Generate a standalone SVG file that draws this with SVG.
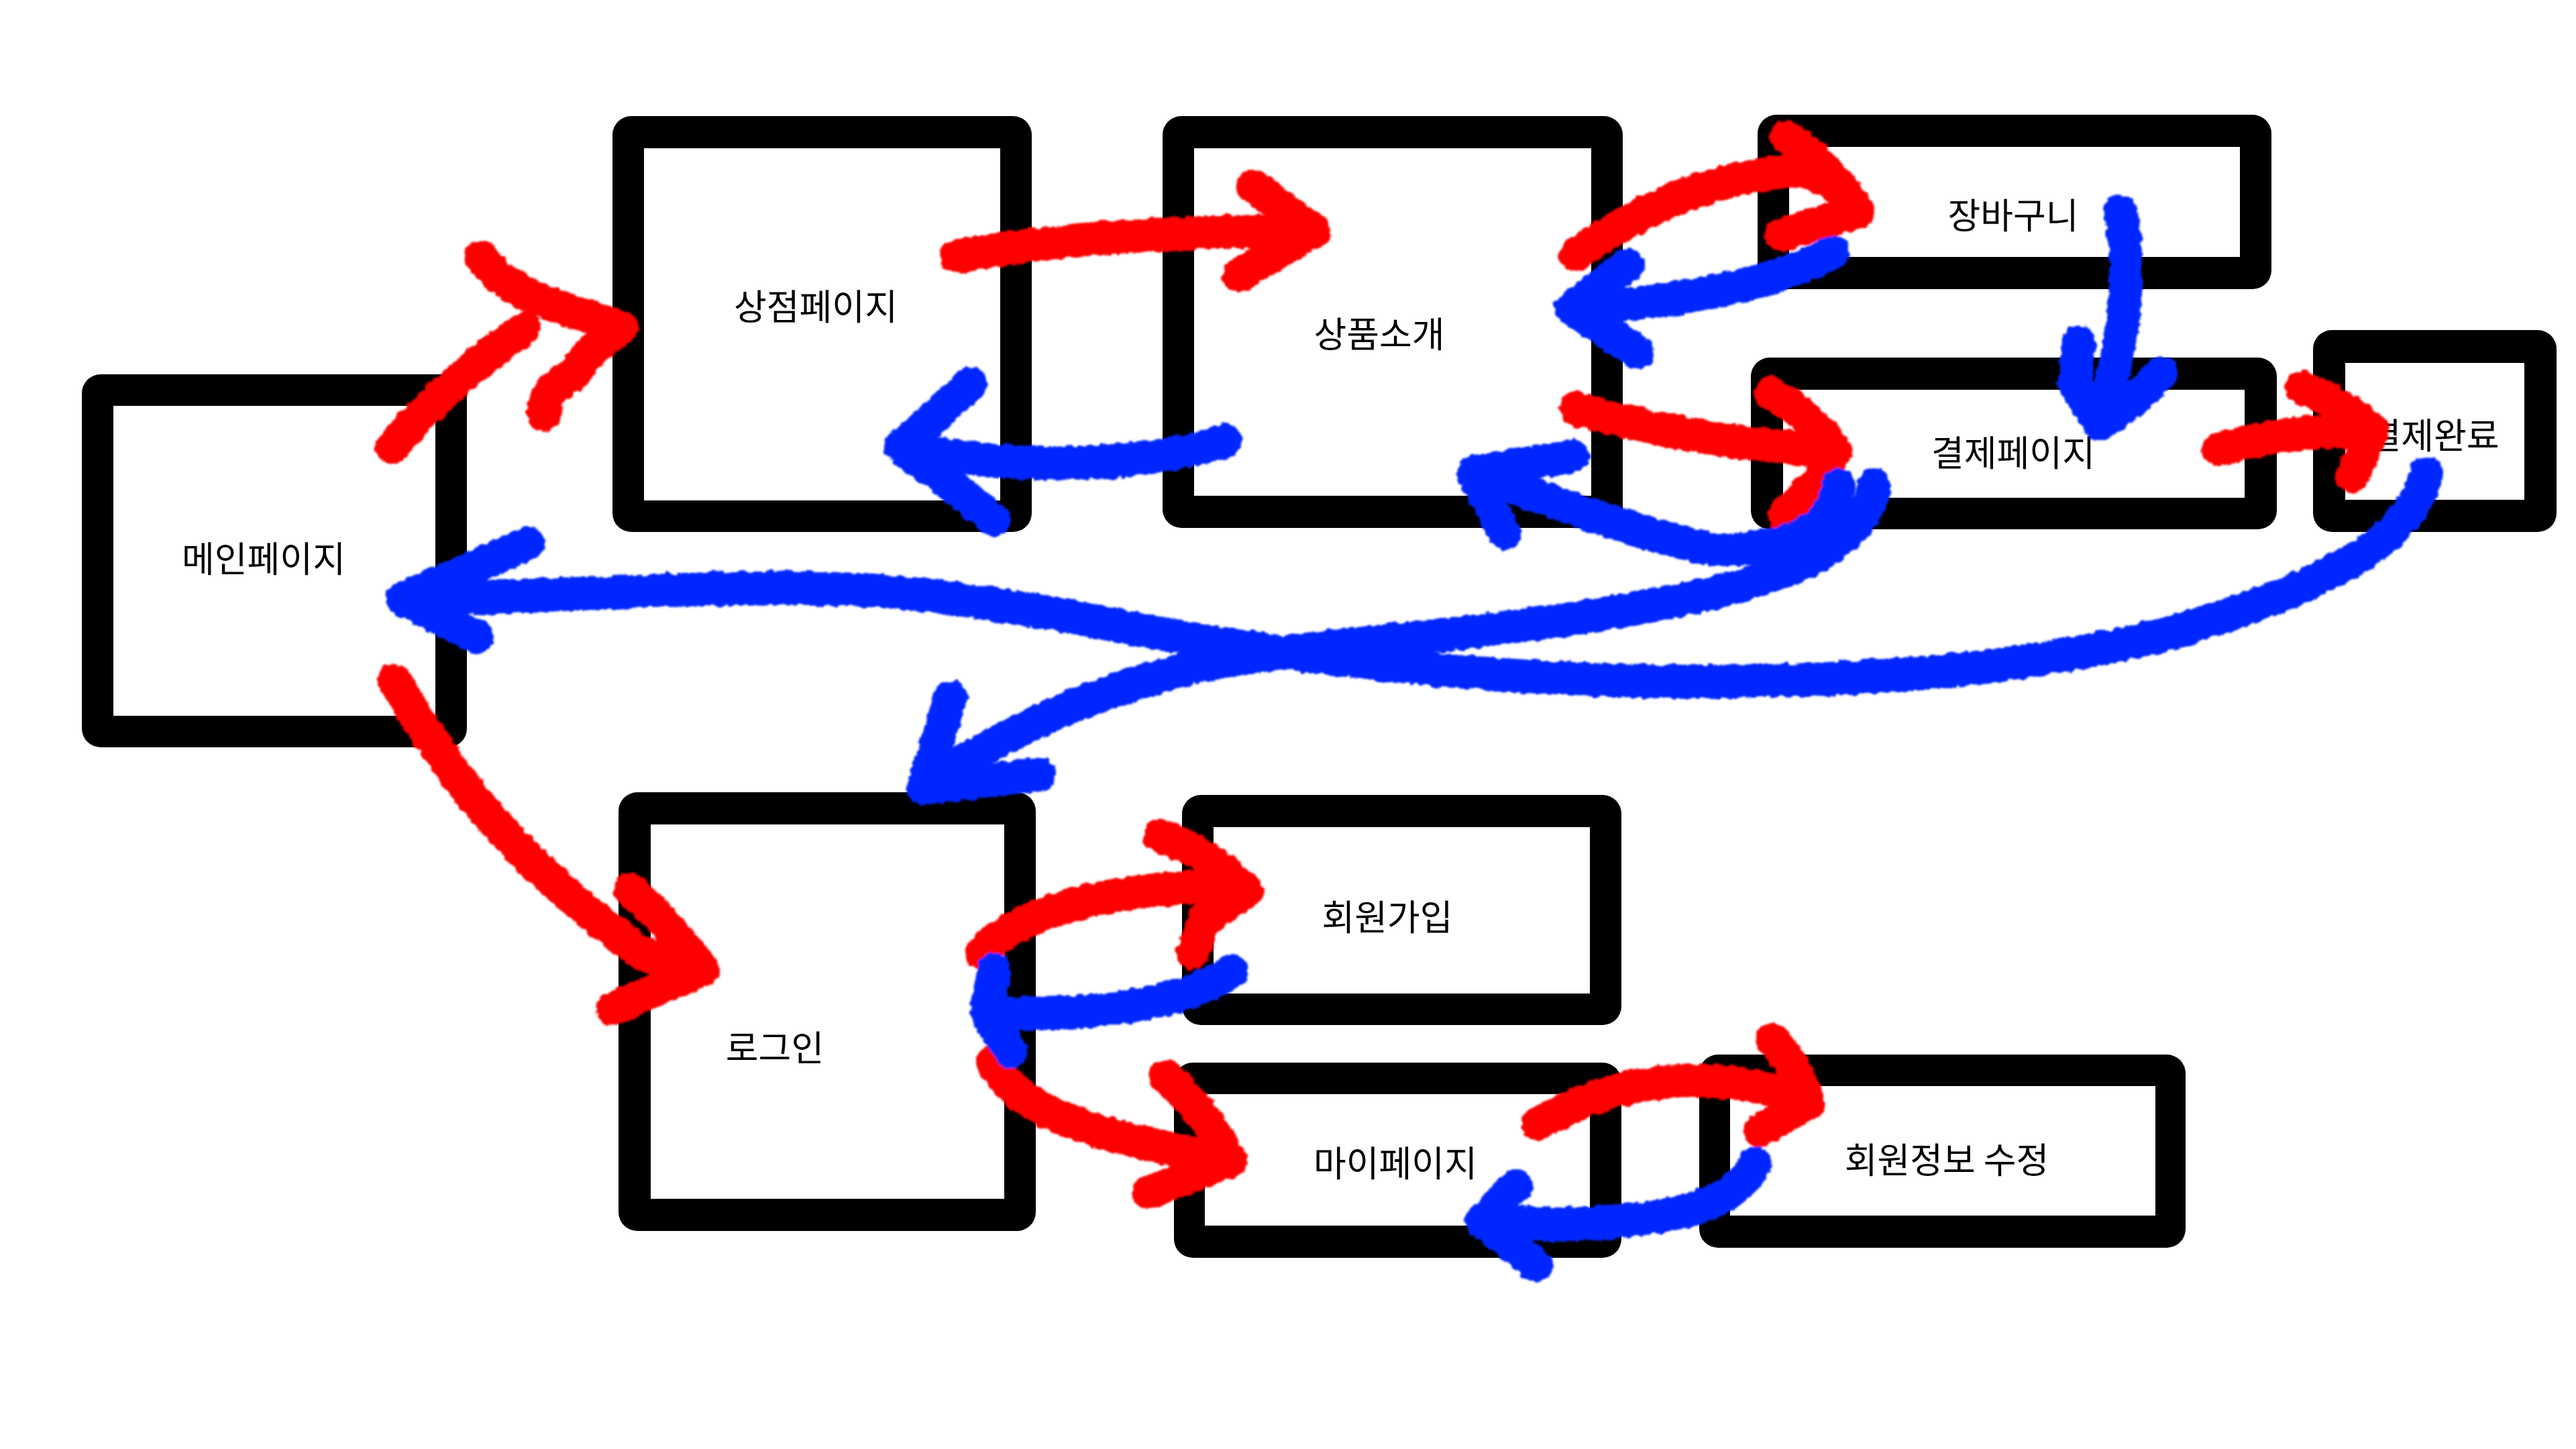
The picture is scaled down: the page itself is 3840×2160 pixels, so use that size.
<svg xmlns="http://www.w3.org/2000/svg" width="3840" height="2160" viewBox="0 0 3840 2160">
<style>
.frame{fill:#000}
.inner{fill:#fff}
.label{font-family:"Noto Sans CJK KR","Noto Sans",sans-serif;font-size:53px;font-weight:400;fill:#000;text-anchor:middle;dominant-baseline:central}
.red{fill:none;stroke:#ff0000;stroke-width:50;stroke-linecap:round;stroke-linejoin:round}
.blue{fill:none;stroke:#0028ff;stroke-width:50;stroke-linecap:round;stroke-linejoin:round}
</style>
<defs>
<filter id="brush" filterUnits="userSpaceOnUse" x="0" y="0" width="3840" height="2160">
<feTurbulence type="fractalNoise" baseFrequency="0.09" numOctaves="2" seed="3" result="n"/>
<feDisplacementMap in="SourceGraphic" in2="n" scale="10" xChannelSelector="R" yChannelSelector="G" result="d"/>
<feGaussianBlur in="d" stdDeviation="1.8"/>
</filter>
</defs>
<rect width="3840" height="2160" fill="#fff"/>

<g id="main-page">
<rect class="frame" x="122" y="558" width="574" height="556" rx="28"/>
<rect class="inner" x="169" y="605" width="480" height="462"/>
<text class="label" x="393" y="830">메인페이지</text>
</g>
<g id="shop-page">
<rect class="frame" x="913" y="173" width="625" height="620" rx="28"/>
<rect class="inner" x="960" y="221" width="531" height="525"/>
<text class="label" x="1216" y="454">상점페이지</text>
</g>
<g id="product-intro">
<rect class="frame" x="1733" y="173" width="686" height="614" rx="28"/>
<rect class="inner" x="1780" y="221" width="592" height="518"/>
<text class="label" x="2056" y="495">상품소개</text>
</g>
<g id="cart">
<rect class="frame" x="2620" y="171" width="766" height="260" rx="28"/>
<rect class="inner" x="2667" y="219" width="672" height="164"/>
<text class="label" x="3001" y="318">장바구니</text>
</g>
<g id="payment-page">
<rect class="frame" x="2610" y="533" width="784" height="256" rx="28"/>
<rect class="inner" x="2658" y="581" width="688" height="161"/>
<text class="label" x="3001" y="672">결제페이지</text>
</g>
<g id="payment-done">
<rect class="frame" x="3448" y="492" width="363" height="301" rx="28"/>
<rect class="inner" x="3496" y="541" width="267" height="204"/>
<text class="label" x="3628" y="646">결제완료</text>
</g>
<g id="login">
<rect class="frame" x="922" y="1181" width="622" height="654" rx="28"/>
<rect class="inner" x="970" y="1229" width="527" height="558"/>
<text class="label" x="1155" y="1559">로그인</text>
</g>
<g id="signup">
<rect class="frame" x="1762" y="1185" width="655" height="343" rx="28"/>
<rect class="inner" x="1809" y="1233" width="561" height="248"/>
<text class="label" x="2068" y="1364">회원가입</text>
</g>
<g id="my-page">
<rect class="frame" x="1750" y="1584" width="667" height="291" rx="28"/>
<rect class="inner" x="1796" y="1631" width="574" height="196"/>
<text class="label" x="2080" y="1731">마이페이지</text>
</g>
<g id="edit-member">
<rect class="frame" x="2533" y="1572" width="725" height="288" rx="28"/>
<rect class="inner" x="2579" y="1619" width="634" height="193"/>
<text class="label" x="2902" y="1726">회원정보 수정</text>
</g>

<g id="connectors" filter="url(#brush)">
<g id="red-arrows">
<path class="red" d="M583,668 C640,600 710,540 781,490"/>
<path class="red" d="M717,383 C740,420 790,445 857,466 Q895,478 927,488 Q880,520 857,555 C830,575 805,590 812,619"/>
<path class="red" d="M1426,382 C1550,360 1700,345 1930,345"/>
<path class="red" d="M1868,277 C1900,300 1930,325 1959,344 L1847,410"/>
<path class="red" d="M2349,380 C2430,320 2560,255 2690,255 Q2740,270 2770,315"/>
<path class="red" d="M2663,204 Q2720,240 2770,315 L2656,349"/>
<path class="red" d="M2349,609 C2450,640 2600,665 2736,672"/>
<path class="red" d="M2640,586 Q2700,620 2736,672 L2712,714 L2660,767"/>
<path class="red" d="M3308,670 C3380,650 3440,640 3537,644"/>
<path class="red" d="M3432,578 Q3490,600 3537,642 L3506,710"/>
<path class="red" d="M588,1014 C660,1140 760,1280 958,1422 L1040,1447"/>
<path class="red" d="M939,1326 Q1000,1380 1047,1447 L996,1467 L913,1505"/>
<path class="red" d="M1463,1420 C1520,1360 1650,1320 1845,1322"/>
<path class="red" d="M1729,1246 Q1800,1270 1858,1328 L1795,1371 L1778,1420"/>
<path class="red" d="M1480,1582 C1520,1660 1620,1690 1828,1729"/>
<path class="red" d="M1737,1604 Q1790,1650 1835,1730 L1712,1777"/>
<path class="red" d="M2293,1675 C2400,1610 2550,1588 2690,1640"/>
<path class="red" d="M2641,1550 Q2680,1590 2695,1645 L2624,1685"/>
</g>
<g id="blue-arrows">
<path class="blue" d="M1826,656 C1700,700 1500,700 1342,666"/>
<path class="blue" d="M1447,572 L1370,642 L1342,666 L1405,712 L1482,775"/>
<path class="blue" d="M2732,376 C2650,420 2520,450 2342,460"/>
<path class="blue" d="M2426,395 L2342,460 L2441,525"/>
<path class="blue" d="M3161,315 C3180,400 3165,520 3130,632"/>
<path class="blue" d="M3099,510 L3092,571 L3130,632 L3184,594 L3222,556"/>
<path class="blue" d="M2741,723 C2730,800 2650,820 2554,819 C2450,800 2330,750 2210,712"/>
<path class="blue" d="M2344,680 L2196,704 L2243,795"/>
<path class="blue" d="M2794,723 C2780,820 2650,870 2450,905 C2200,950 1950,960 1800,990 C1620,1030 1480,1100 1377,1175"/>
<path class="blue" d="M1417,1039 L1377,1175 L1550,1154"/>
<path class="blue" d="M3616,705 C3600,800 3480,870 3238,943 C3000,1005 2700,1022 2400,1014 C2200,1008 2000,985 1861,965 C1700,945 1550,900 1300,880 C1100,868 850,890 600,893"/>
<path class="blue" d="M787,810 L600,893 L710,950"/>
<path class="blue" d="M1837,1448 C1760,1500 1620,1515 1480,1510"/>
<path class="blue" d="M1482,1445 L1470,1510 L1506,1567"/>
<path class="blue" d="M2616,1734 C2590,1790 2520,1820 2327,1825 L2210,1821"/>
<path class="blue" d="M2259,1767 L2210,1821 L2290,1886"/>
</g>
</g>
</svg>
